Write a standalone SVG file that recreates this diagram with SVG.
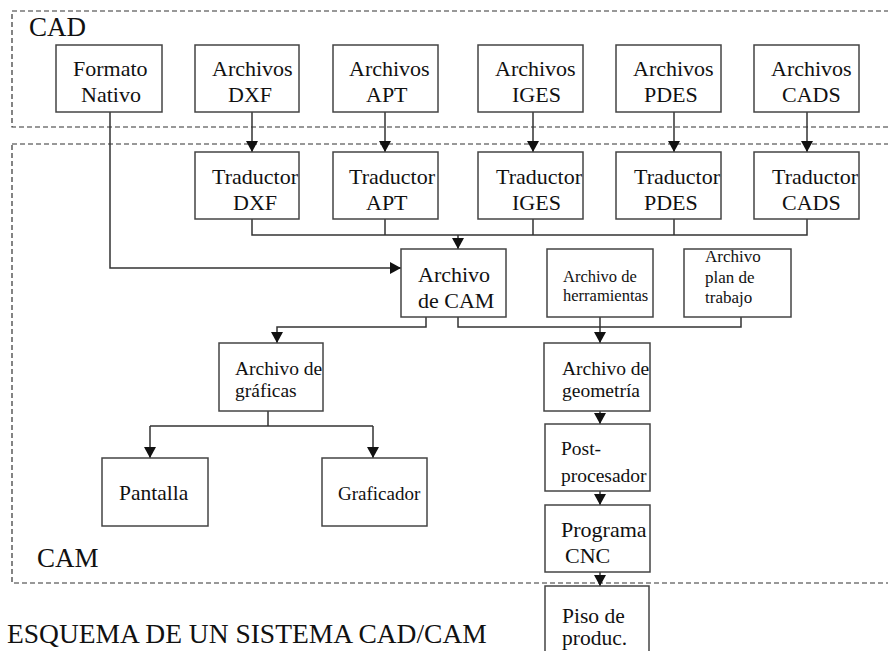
<svg xmlns="http://www.w3.org/2000/svg" width="888" height="651" viewBox="0 0 888 651">
  <style>
    .zone { fill: none; stroke: #333; stroke-width: 1.2; stroke-dasharray: 5 3; }
    .box { fill: #fff; stroke: #444; stroke-width: 1.5; }
    text { font-family: "Liberation Serif", "Times New Roman", "DejaVu Serif", serif; fill: #111; }
    .big { font-size: 27px; }
    .n22 { font-size: 22px; }
    .n19 { font-size: 19.5px; }
    .n17 { font-size: 17px; }
    .n16 { font-size: 16.5px; }
    .wire { fill: none; stroke: #333; stroke-width: 1.5; }
    .head { fill: #111; }
  </style>
  <defs>
    <marker id="arr" viewBox="0 0 11 12" refX="11" refY="6" markerWidth="11" markerHeight="12" markerUnits="userSpaceOnUse" orient="auto">
      <path class="head" d="M0,0 L11,6 L0,12 Z"/>
    </marker>
  </defs>
  <rect width="888" height="651" fill="#fff"/>

  <!-- system zones -->
  <g id="zone-cad">
    <rect class="zone" x="12" y="11" width="900" height="116"/>
    <text class="big" x="29" y="36" font-family="Liberation Serif, serif">CAD</text>
  </g>
  <g id="zone-cam">
    <rect class="zone" x="12" y="144" width="900" height="439"/>
    <text class="big" x="37" y="567">CAM</text>
  </g>

  <!-- connectors -->
  <g id="connectors">
    <path class="wire" d="M110,112 V268 H401" marker-end="url(#arr)"/>
    <path class="wire" d="M252,112 V152" marker-end="url(#arr)"/>
    <path class="wire" d="M385,112 V152" marker-end="url(#arr)"/>
    <path class="wire" d="M533,112 V152" marker-end="url(#arr)"/>
    <path class="wire" d="M674,112 V152" marker-end="url(#arr)"/>
    <path class="wire" d="M807,112 V152" marker-end="url(#arr)"/>
    <path class="wire" d="M252,219 V235 H807 V219 M385,219 V235 M533,219 V235 M674,219 V235"/>
    <path class="wire" d="M458,235 V249" marker-end="url(#arr)"/>
    <path class="wire" d="M426,317 V327 H277 V343" marker-end="url(#arr)"/>
    <path class="wire" d="M458,317 V327 H741 V317"/>
    <path class="wire" d="M600,317 V343" marker-end="url(#arr)"/>
    <path class="wire" d="M268,411 V426 M150,426 H373"/>
    <path class="wire" d="M150,426 V458" marker-end="url(#arr)"/>
    <path class="wire" d="M373,426 V458" marker-end="url(#arr)"/>
    <path class="wire" d="M600,411 V424" marker-end="url(#arr)"/>
    <path class="wire" d="M600,491 V505" marker-end="url(#arr)"/>
    <path class="wire" d="M600,572 V586" marker-end="url(#arr)"/>
  </g>

  <!-- CAD sources -->
  <g id="formato-nativo">
    <rect class="box" x="56" y="45" width="106" height="67"/>
    <text class="n22" x="73" y="76">Formato</text>
    <text class="n22" x="81" y="102">Nativo</text>
  </g>
  <g id="archivos-dxf">
    <rect class="box" x="195" y="45" width="104" height="67"/>
    <text class="n22" x="212" y="76">Archivos</text>
    <text class="n22" x="228" y="102">DXF</text>
  </g>
  <g id="archivos-apt">
    <rect class="box" x="333" y="45" width="105" height="67"/>
    <text class="n22" x="349" y="76">Archivos</text>
    <text class="n22" x="366" y="102">APT</text>
  </g>
  <g id="archivos-iges">
    <rect class="box" x="478" y="45" width="105" height="67"/>
    <text class="n22" x="495" y="76">Archivos</text>
    <text class="n22" x="512" y="102">IGES</text>
  </g>
  <g id="archivos-pdes">
    <rect class="box" x="616" y="45" width="105" height="67"/>
    <text class="n22" x="633" y="76">Archivos</text>
    <text class="n22" x="644" y="102">PDES</text>
  </g>
  <g id="archivos-cads">
    <rect class="box" x="754" y="45" width="105" height="67"/>
    <text class="n22" x="771" y="76">Archivos</text>
    <text class="n22" x="782" y="102">CADS</text>
  </g>

  <!-- translators -->
  <g id="traductor-dxf">
    <rect class="box" x="195" y="152" width="104" height="67"/>
    <text class="n22" x="212" y="184">Traductor</text>
    <text class="n22" x="233" y="210">DXF</text>
  </g>
  <g id="traductor-apt">
    <rect class="box" x="333" y="152" width="105" height="67"/>
    <text class="n22" x="349" y="184">Traductor</text>
    <text class="n22" x="366" y="210">APT</text>
  </g>
  <g id="traductor-iges">
    <rect class="box" x="478" y="152" width="105" height="67"/>
    <text class="n22" x="496" y="184">Traductor</text>
    <text class="n22" x="512" y="210">IGES</text>
  </g>
  <g id="traductor-pdes">
    <rect class="box" x="616" y="152" width="105" height="67"/>
    <text class="n22" x="634" y="184">Traductor</text>
    <text class="n22" x="644" y="210">PDES</text>
  </g>
  <g id="traductor-cads">
    <rect class="box" x="754" y="152" width="105" height="67"/>
    <text class="n22" x="772" y="184">Traductor</text>
    <text class="n22" x="782" y="210">CADS</text>
  </g>

  <!-- CAM files -->
  <g id="archivo-cam">
    <rect class="box" x="401" y="249" width="105" height="68"/>
    <text class="n22" x="418" y="282">Archivo</text>
    <text class="n22" x="418" y="308">de CAM</text>
  </g>
  <g id="archivo-herramientas">
    <rect class="box" x="547" y="249" width="106" height="68"/>
    <text class="n16" x="563" y="282">Archivo de</text>
    <text class="n16" x="563" y="301">herramientas</text>
  </g>
  <g id="archivo-plan">
    <rect class="box" x="684" y="249" width="107" height="68"/>
    <text class="n17" x="705" y="262">Archivo</text>
    <text class="n17" x="705" y="283">plan de</text>
    <text class="n17" x="705" y="303">trabajo</text>
  </g>
  <g id="archivo-graficas">
    <rect class="box" x="219" y="343" width="104" height="68"/>
    <text class="n19" x="235" y="375">Archivo de</text>
    <text class="n19" x="235" y="397">gráficas</text>
  </g>
  <g id="archivo-geometria">
    <rect class="box" x="544" y="343" width="106" height="68"/>
    <text class="n19" x="562" y="375">Archivo de</text>
    <text class="n19" x="562" y="397">geometría</text>
  </g>

  <!-- outputs -->
  <g id="pantalla">
    <rect class="box" x="102" y="458" width="106" height="68"/>
    <text font-size="21.5" x="119" y="500">Pantalla</text>
  </g>
  <g id="graficador">
    <rect class="box" x="322" y="458" width="105" height="68"/>
    <text font-size="19" x="338" y="500">Graficador</text>
  </g>
  <g id="post-procesador">
    <rect class="box" x="545" y="424" width="105" height="67"/>
    <text class="n19" x="561" y="455">Post-</text>
    <text class="n19" x="561" y="482">procesador</text>
  </g>
  <g id="programa-cnc">
    <rect class="box" x="545" y="505" width="105" height="67"/>
    <text class="n22" x="561" y="537">Programa</text>
    <text class="n22" x="565" y="563">CNC</text>
  </g>
  <g id="piso-produccion">
    <rect class="box" x="545" y="586" width="104" height="80"/>
    <text font-size="21.5" x="562" y="623">Piso de</text>
    <text font-size="21.5" x="562" y="645">produc.</text>
  </g>

  <text font-size="27.5" x="7" y="643">ESQUEMA DE UN SISTEMA CAD/CAM</text>
</svg>
